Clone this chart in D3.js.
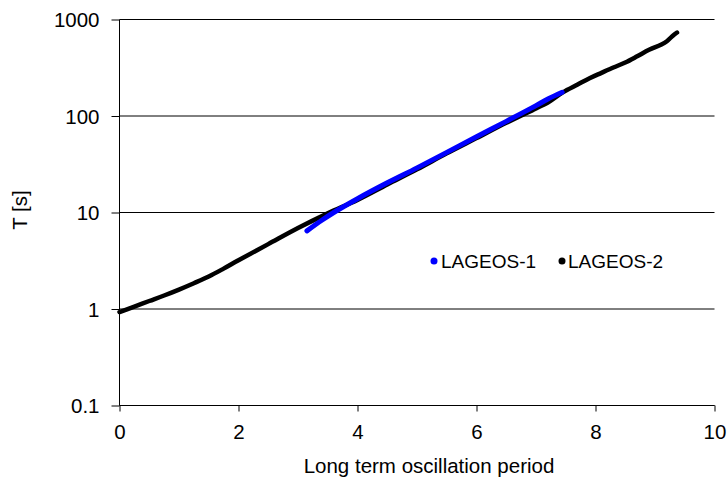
<!DOCTYPE html>
<html><head><meta charset="utf-8">
<script src="https://cdn.jsdelivr.net/npm/d3@7"></script>
<style>body{margin:0;background:#fff}text{font-family:Arial,"Liberation Sans",sans-serif;fill:#000}</style>
</head><body><svg id="c" width="728" height="492"></svg>
<script>
const xTicks = [0, 2, 4, 6, 8, 10];
const yTicks = [0.1, 1, 10, 100, 1000];
const yTickLabels = ["0.1", "1", "10", "100", "1000"];
const seriesNames = ["LAGEOS-1", "LAGEOS-2"];
const lageos2X = [0, 0.25, 0.5, 0.75, 1.0, 1.25, 1.5, 1.75, 2.0, 2.5, 3.0, 3.5, 4.0, 4.5, 5.0, 5.5, 6.0, 6.5, 7.0, 7.2, 7.45, 7.7, 7.9, 8.1, 8.3, 8.5, 8.7, 8.9, 9.1, 9.2, 9.3, 9.37];
const lageos2Y = [0.93, 1.06, 1.21, 1.38, 1.59, 1.85, 2.17, 2.62, 3.2, 4.7, 6.9, 9.8, 13.5, 19.5, 28, 41, 59, 85, 120, 138, 176, 212, 246, 280, 318, 358, 415, 485, 548, 595, 680, 733];
const lageos1X = [3.15, 3.4, 3.6, 4.0, 4.5, 5.0, 5.5, 6.0, 6.5, 7.0, 7.2, 7.44];
const lageos1Y = [6.45, 8.3, 10, 13.9, 20.3, 29, 42, 61, 88, 128, 150, 176];

const svg = d3.select("#c");
const L = 119.5, R = 714.5, T = 19.5, B = 405.5;
const x = d3.scaleLinear().domain([0, 10]).range([L, R]);
const y = d3.scaleLog().domain([0.1, 1000]).range([B, T]);
const fs = 20.5, lfs = 19;

// gridlines
svg.append("g").selectAll("line").data(yTicks).join("line")
  .attr("x1", L).attr("x2", R).attr("y1", d => y(d)).attr("y2", d => y(d))
  .attr("stroke", "#000").attr("stroke-width", 1);

// y axis
const ya = svg.append("g").attr("transform", `translate(${L},0)`)
  .call(d3.axisLeft(y).tickValues(yTicks).tickSize(8).tickPadding(12).tickFormat((d, i) => yTickLabels[i]));
ya.select(".domain").attr("stroke", "#000").attr("d", `M0,${T}V${B}`);
ya.selectAll("text").attr("font-size", fs).attr("font-family", "Arial, 'Liberation Sans', sans-serif").attr("dy", "0.35em");

// x axis
const xa = svg.append("g").attr("transform", `translate(0,${B})`)
  .call(d3.axisBottom(x).tickValues(xTicks).tickSize(6).tickPadding(13).tickFormat(d3.format("d")));
xa.select(".domain").attr("stroke", "#000").attr("d", `M${L},0H${R}`);
xa.selectAll("text").attr("font-size", fs).attr("font-family", "Arial, 'Liberation Sans', sans-serif");

// lines
const line = d3.line().x(d => x(d[0])).y(d => y(d[1])).curve(d3.curveCatmullRom.alpha(0.5));
const d2 = lageos2X.map((v, i) => [v, lageos2Y[i]]);
const d1 = lageos1X.map((v, i) => [v, lageos1Y[i]]);
svg.append("path").attr("d", line(d2)).attr("fill", "none").attr("stroke", "#000").attr("stroke-width", 4.5).attr("stroke-linecap", "round").attr("stroke-linejoin", "round");
svg.append("path").attr("d", line(d1)).attr("fill", "none").attr("stroke", "#0000ff").attr("stroke-width", 5).attr("stroke-linecap", "round");

// legend
const legend = [{name: seriesNames[0], color: "#0000ff", cx: 434, tx: 441}, {name: seriesNames[1], color: "#000", cx: 562, tx: 568}];
legend.forEach(l => {
  svg.append("circle").attr("cx", l.cx).attr("cy", 261).attr("r", 3.5).attr("fill", l.color);
  svg.append("text").attr("x", l.tx).attr("y", 261).attr("dy", "0.35em").attr("font-size", lfs).text(l.name);
});

// titles
svg.append("text").attr("x", 429).attr("y", 473).attr("text-anchor", "middle").attr("font-size", fs).text("Long term oscillation period");
svg.append("text").attr("transform", "translate(27,210) rotate(-90)").attr("text-anchor", "middle").attr("font-size", fs).text("T [s]");
</script></body></html>
